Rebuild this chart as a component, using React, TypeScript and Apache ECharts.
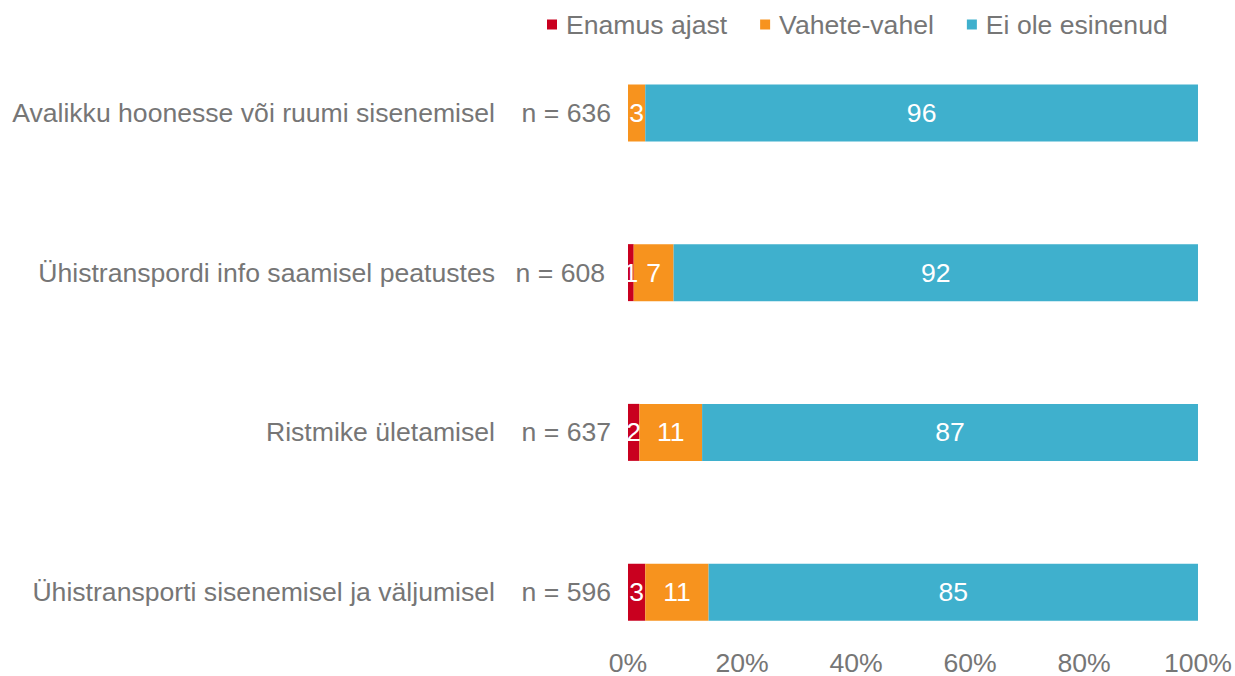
import React, { useEffect, useRef } from "react";
import * as echarts from "echarts";

const categories = [
  "Avalikku hoonesse või ruumi sisenemisel",
  "Ühistranspordi info saamisel peatustes",
  "Ristmike ületamisel",
  "Ühistransporti sisenemisel ja väljumisel",
];
const nValues = [636, 608, 637, 596];
const enamusAjast = [0, 1, 2, 3];
const vaheteVahel = [3, 7, 11, 11];
const eiOleEsinenud = [96, 92, 87, 85];
const seriesNames = ["Enamus ajast", "Vahete-vahel", "Ei ole esinenud"];
const colors = ["#C9001F", "#F7931E", "#3FB0CD"];
const tickLabels = ["0%", "20%", "40%", "60%", "80%", "100%"];

const FONT = "Liberation Sans, Arial, sans-serif";
const GRAY = "#767676";
const FS = 26.6;

export default function App() {
  const ref = useRef<HTMLDivElement>(null);
  useEffect(() => {
    if (!ref.current) return;
    const chart = echarts.init(ref.current, undefined, { renderer: "svg" });
    const raw = [enamusAjast, vaheteVahel, eiOleEsinenud];
    const totals = categories.map((_, i) => raw.reduce((s, a) => s + a[i], 0));
    const series = raw.map((arr, si) => ({
      name: seriesNames[si],
      type: "bar",
      stack: "total",
      barWidth: 57,
      itemStyle: { color: colors[si] },
      label: {
        show: true,
        position: "inside",
        color: "#ffffff",
        fontSize: FS,
        fontFamily: FONT,
        formatter: (p: any) => (arr[p.dataIndex] === 0 ? "" : String(arr[p.dataIndex])),
      },
      data: arr.map((v, i) => (v / totals[i]) * 100),
    }));
    chart.setOption({
      animation: false,
      textStyle: { fontFamily: FONT },
      legend: {
        top: 6,
        left: 542,
        itemWidth: 10,
        itemHeight: 10,
        itemGap: 33,
        icon: "rect",
        textStyle: { color: GRAY, fontSize: FS, fontFamily: FONT, padding: [0, 0, 0, 4] },
        data: seriesNames,
      },
      grid: { left: 628, right: 36, top: 33, height: 639 },
      xAxis: {
        type: "value",
        min: 0,
        max: 100,
        interval: 20,
        offset: -23,
        axisLine: { show: false },
        axisTick: { show: false },
        splitLine: { show: false },
        axisLabel: {
          color: GRAY,
          fontSize: FS,
          fontFamily: FONT,
          margin: 0,
          formatter: (v: number) => tickLabels[Math.round(v / 20)],
        },
      },
      yAxis: [
        {
          type: "category",
          inverse: true,
          data: categories,
          axisLine: { show: false },
          axisTick: { show: false },
          axisLabel: { color: GRAY, fontSize: FS, fontFamily: FONT, margin: 133, padding: [0, 0, 4, 0] },
        },
        {
          type: "category",
          inverse: true,
          position: "left",
          data: nValues.map((n, i) => ({
            value: "n = " + n,
            textStyle: i === 1 ? { padding: [0, 6, 0, 0] } : {},
          })),
          axisLine: { show: false },
          axisTick: { show: false },
          axisLabel: { color: GRAY, fontSize: FS, fontFamily: FONT, margin: 17 },
        },
      ],
      series,
    });
    return () => chart.dispose();
  }, []);
  return (
    <div
      ref={ref}
      style={{ position: "fixed", left: 0, top: 0, width: 1235, height: 676, background: "#fff" }}
    />
  );
}
